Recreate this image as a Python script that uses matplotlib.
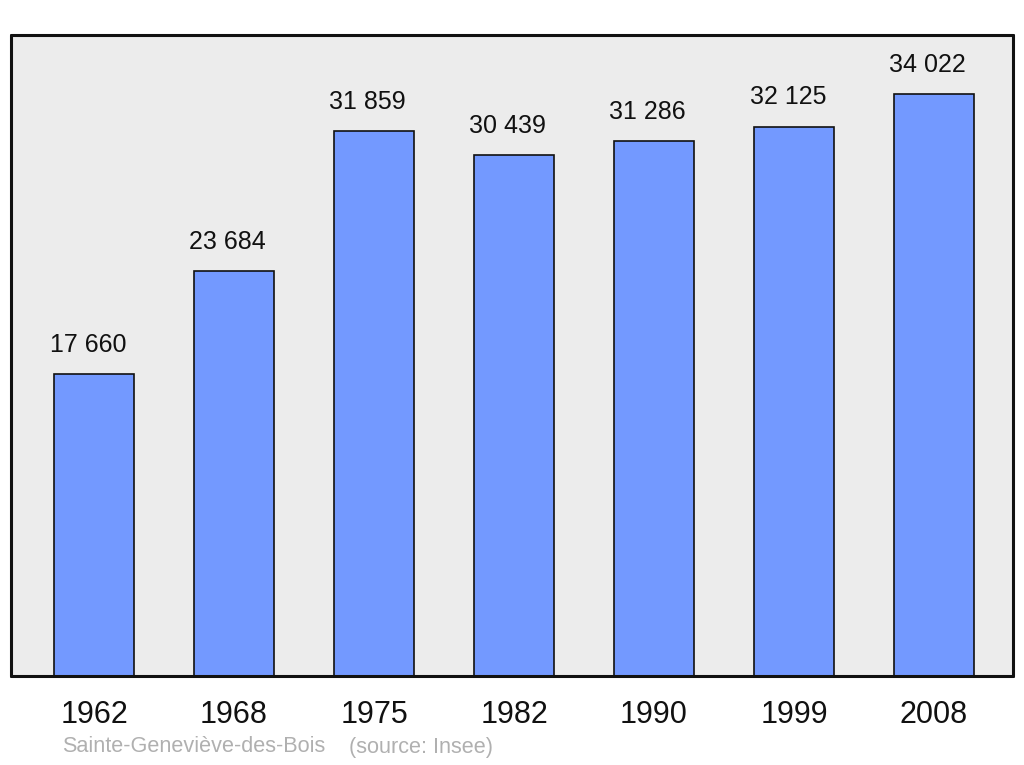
import matplotlib

matplotlib.use("Agg")
import matplotlib.pyplot as plt

years = ["1962", "1968", "1975", "1982", "1990", "1999", "2008"]
population = [17660, 23684, 31859, 30439, 31286, 32125, 34022]
town = "Sainte-Geneviève-des-Bois"
source = "(source: Insee)"

plt.rcParams["font.family"] = ["Liberation Sans", "DejaVu Sans"]

fig = plt.figure(figsize=(10.24, 7.65), dpi=100)
ax = fig.add_axes([11 / 1024, 89 / 765, 1002 / 1024, 641 / 765])
ax.set_facecolor("#ececec")

x = list(range(len(years)))
bars = ax.bar(x, population, width=0.57, color="#7399ff",
              edgecolor="#111111", linewidth=1.2, zorder=2)

for rect, val in zip(bars, population):
    label = f"{val:,}".replace(",", " ")
    ax.annotate(label, (rect.get_x() + rect.get_width() / 2, val),
                xytext=(-4.5, 12.5), textcoords="offset points",
                ha="center", va="bottom", fontsize=18, color="#111111")

ax.set_xlim(-0.593, 6.564)
ax.set_ylim(0, 37485)
ax.set_yticks([])
ax.set_xticks(x)
ax.set_xticklabels(years, fontsize=22, color="#111111")
ax.tick_params(axis="x", length=0, pad=17)

for spine in ax.spines.values():
    spine.set_linewidth(2.2)
    spine.set_edgecolor("#111111")
    spine.set_capstyle("round")
    spine.set_joinstyle("round")

fig.text(62 / 1024, 1 - 747 / 765, town, fontsize=15.6, color="#b0b0b0",
         ha="left", va="center")
fig.text(349 / 1024, 1 - 747 / 765, source, fontsize=15.6, color="#b0b0b0",
         ha="left", va="center")

fig.savefig("out.png", dpi=100)
plt.close(fig)
